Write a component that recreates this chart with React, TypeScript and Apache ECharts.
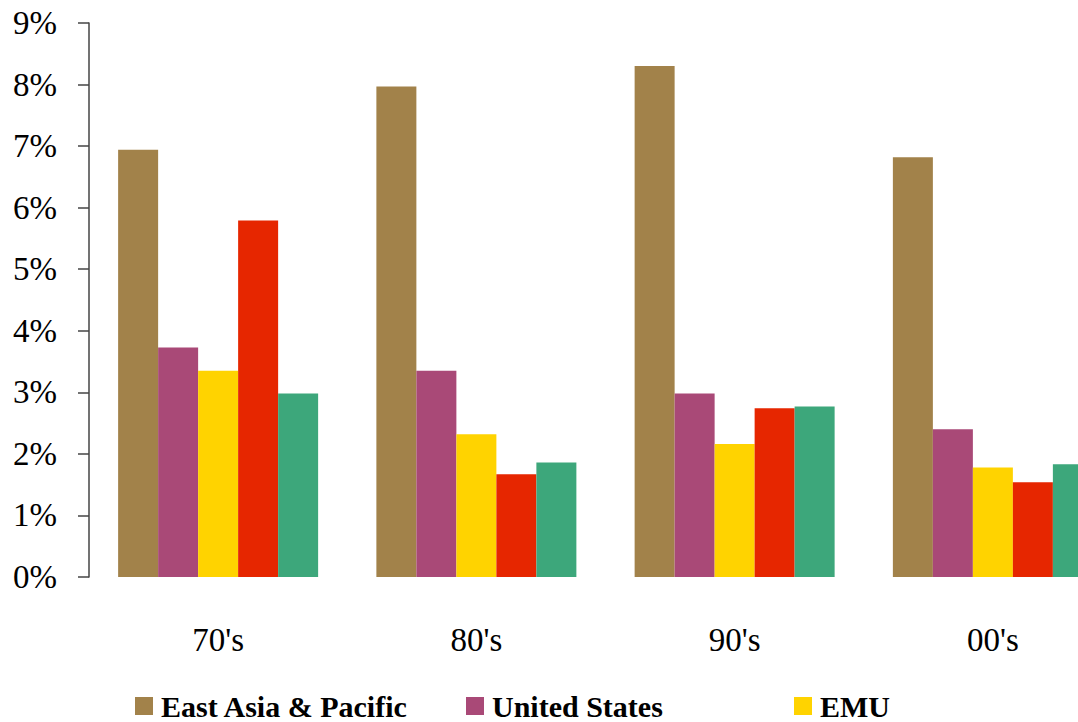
import React, { useEffect, useRef } from "react";
import * as echarts from "echarts";

const categories = ["70's", "80's", "90's", "00's"];
const seriesNames = ["East Asia & Pacific", "United States", "EMU", "Series 4", "Series 5"];
const eastAsiaPacific = [6.94, 7.97, 8.3, 6.82];
const unitedStates = [3.73, 3.35, 2.98, 2.4];
const emu = [3.35, 2.32, 2.16, 1.78];
const series4 = [5.79, 1.67, 2.74, 1.54];
const series5 = [2.98, 1.86, 2.77, 1.83];
const colors = ["#A2824A", "#A94977", "#FFD300", "#E62600", "#3DA77B"];
const yTicks = [0, 1, 2, 3, 4, 5, 6, 7, 8, 9];

const FONT = "'Liberation Serif', 'Times New Roman', serif";

export default function App() {
  const ref = useRef<HTMLDivElement>(null);
  useEffect(() => {
    if (!ref.current) return;
    const chart = echarts.init(ref.current, null, { renderer: "svg" });
    const values = [eastAsiaPacific, unitedStates, emu, series4, series5];
    const legendLefts = [135, 466, 794];
    const option: any = {
      animation: false,
      backgroundColor: "#ffffff",
      grid: {
        left: 89,
        top: 23,
        bottom: 145,
        width: 1033,
        containLabel: false,
        outerBoundsMode: "none",
      },
      legend: legendLefts.map((l, i) => ({
        left: l,
        top: 691,
        padding: 0,
        data: [seriesNames[i]],
        icon: "rect",
        itemWidth: 18,
        itemHeight: 18,
        itemGap: 0,
        selectedMode: false,
        textStyle: {
          fontFamily: FONT,
          fontWeight: "bold",
          fontSize: 30,
          lineHeight: 30,
          color: "#000",
          padding: [0, 0, 0, 3],
        },
      })),
      xAxis: {
        type: "category",
        data: categories,
        axisLine: { show: false },
        axisTick: { show: false },
        axisLabel: {
          margin: 46,
          fontFamily: FONT,
          fontSize: 33,
          color: "#000",
        },
      },
      yAxis: {
        type: "value",
        min: yTicks[0],
        max: yTicks[yTicks.length - 1],
        interval: 1,
        splitLine: { show: false },
        axisLine: { show: true, lineStyle: { color: "#444", width: 1.5 } },
        axisTick: { show: true, inside: false, length: 11, lineStyle: { color: "#444", width: 1.5 } },
        axisLabel: {
          margin: 32,
          fontFamily: FONT,
          fontSize: 33,
          color: "#000",
          formatter: "{value}%",
        },
      },
      series: values.map((v, i) => ({
        name: seriesNames[i],
        type: "bar",
        data: v,
        barWidth: 40,
        barGap: "0%",
        itemStyle: { color: colors[i] },
      })),
    };
    chart.setOption(option);
    return () => chart.dispose();
  }, []);
  return (
    <div
      ref={ref}
      style={{ position: "absolute", left: 0, top: 0, width: 1078, height: 722, background: "#fff" }}
    />
  );
}
